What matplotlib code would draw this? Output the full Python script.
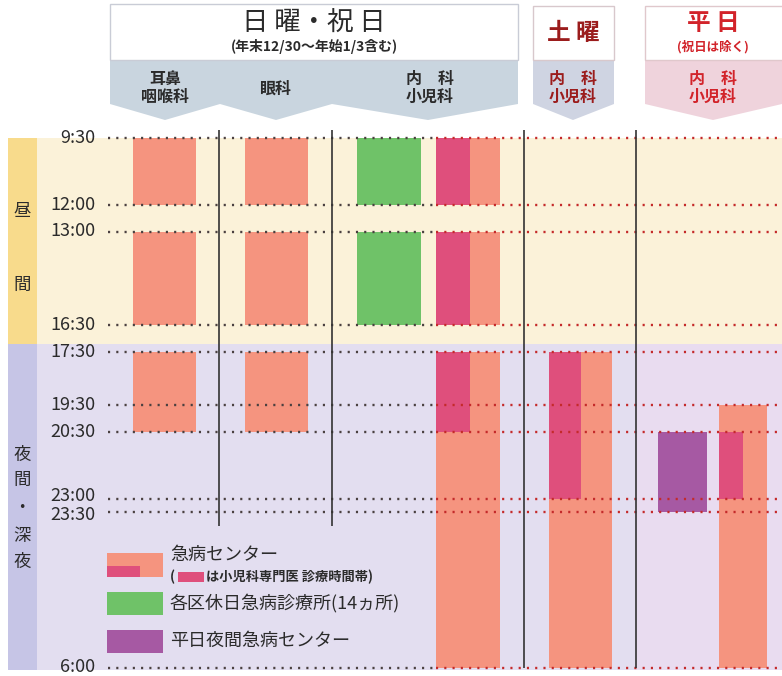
import numpy as np
import matplotlib
matplotlib.use("Agg")
import matplotlib.pyplot as plt
from matplotlib.patches import Polygon, Rectangle

plt.rcParams['font.family'] = ['Noto Sans CJK JP', 'DejaVu Sans']

# ---------------- data ----------------
tick_hours = [9.5, 12, 13, 16.5, 17.5, 19.5, 20.5, 23, 23.5, 30]
tick_labels = ["9:30", "12:00", "13:00", "16:30", "17:30", "19:30", "20:30", "23:00", "23:30", "6:00"]

ent_start = [9.5, 13, 17.5]
ent_end = [12, 16.5, 20.5]
eye_start = [9.5, 13, 17.5]
eye_end = [12, 16.5, 20.5]
clinic_start = [9.5, 13]
clinic_end = [12, 16.5]
sun_center_start = [9.5, 13, 17.5]
sun_center_end = [12, 16.5, 30]
sun_ped_start = [9.5, 13, 17.5]
sun_ped_end = [12, 16.5, 20.5]
sat_center_start = [17.5]
sat_center_end = [30]
sat_ped_start = [17.5]
sat_ped_end = [23]
wk_night_start = [20.5]
wk_night_end = [23.5]
wk_center_start = [19.5]
wk_center_end = [30]
wk_ped_start = [20.5]
wk_ped_end = [23]

day_start, day_end = 9.5, 17.2
night_start, night_end = 17.2, 30.1

# ---------------- style ----------------
SALMON = "#f5947f"
PINK = "#df4f7c"
GREEN = "#6fc268"
PURPLE = "#a659a3"
CREAM = "#fbf2d9"
LAV = "#e3def0"
BAND_Y = "#f8db8c"
BAND_L = "#c6c5e6"
DARK = "#2b2b2b"
RED = "#d2232a"
DRED = "#9b1c1c"

fig = plt.figure(figsize=(7.82, 6.76), dpi=100)
fig.patch.set_facecolor("white")

ax = fig.add_axes([0, 0, 1, 1])
HK = [4.33, 9.5, 23.5, 30.0, 30.33]
PK = [0, 138, 512, 668, 676]
ax.set_yscale('function', functions=(lambda h: np.interp(h, HK, PK),
                                     lambda p: np.interp(p, PK, HK)))
ax.set_xlim(0, 782)
ax.set_ylim(HK[-1], HK[0])
ax.axis('off')
ax.patch.set_alpha(0)

# background bands
ax.axhspan(day_start, day_end, xmin=37/782, xmax=1, color=CREAM, lw=0, zorder=0)
ax.axhspan(night_start, night_end, xmin=37/782, xmax=1, color=LAV, lw=0, zorder=0)
ax.axhspan(night_start, night_end, xmin=636/782, xmax=1, color="#e9dcf0", lw=0, zorder=0)
ax.axhspan(day_start, day_end, xmin=8/782, xmax=37/782, color=BAND_Y, lw=0, zorder=0)
ax.axhspan(night_start, night_end, xmin=8/782, xmax=37/782, color=BAND_L, lw=0, zorder=0)

for ch, h in [("昼", 12.25), ("間", 15.0)]:
    ax.text(22, h, ch, ha='center', va='center', fontsize=12.5, color=DARK)
for ch, h in [("夜", 21.35), ("間", 22.3), ("・", 23.35), ("深", 24.5), ("夜", 25.6)]:
    ax.text(22, h, ch, ha='center', va='center', fontsize=12.5, color=DARK)


def bars(starts, ends, x0, x1, color, z=2):
    s = np.array(starts, float)
    e = np.array(ends, float)
    ax.bar([x0] * len(s), e - s, bottom=s, width=x1 - x0, align='edge',
           color=color, lw=0, zorder=z)


bars(ent_start, ent_end, 133, 196, SALMON)
bars(eye_start, eye_end, 245, 308, SALMON)
bars(clinic_start, clinic_end, 357, 421, GREEN)
bars(sun_center_start, sun_center_end, 436, 500, SALMON)
bars(sun_ped_start, sun_ped_end, 436, 470, PINK, 3)
bars(sat_center_start, sat_center_end, 549, 612, SALMON)
bars(sat_ped_start, sat_ped_end, 549, 581, PINK, 3)
bars(wk_night_start, wk_night_end, 658, 707, PURPLE)
bars(wk_center_start, wk_center_end, 719, 767, SALMON)
bars(wk_ped_start, wk_ped_end, 719, 743, PINK, 3)

# dotted time lines
ax.hlines(tick_hours, 108, 436, colors="#4a4040", linestyles=(0, (0.9, 2.6)), lw=1.7, zorder=4)
ax.hlines(tick_hours, 436, 782, colors="#c42a2a", linestyles=(0, (0.9, 2.6)), lw=1.7, zorder=4)
label_dy = {"23:00": 3, "23:30": -3, "6:00": 1}
for h, lab in zip(tick_hours, tick_labels):
    ax.annotate(lab, (95, h), xytext=(0, label_dy.get(lab, 0)), textcoords='offset pixels',
                ha='right', va='center', fontsize=13, color=DARK)

# separators
ax.vlines([219, 332], 9.2, 24.1, colors="#333333", lw=1.2, zorder=5)
ax.vlines([524, 636], 9.2, 30.0, colors="#333333", lw=1.2, zorder=5)

# ---------------- header & legend overlay (pixel coordinates) ----------------
ah = fig.add_axes([0, 0, 1, 1])
ah.set_xlim(0, 782)
ah.set_ylim(676, 0)
ah.axis('off')
ah.patch.set_alpha(0)

GB = "#c9d5df"
# Sunday/holiday
ah.add_patch(Polygon([(110, 60), (110, 104), (165, 120), (220, 104), (276, 120),
                      (332, 104), (428, 120), (518, 104), (518, 60)],
                     closed=True, fc=GB, ec="none"))
ah.add_patch(Rectangle((110, 4), 408, 56, fc="white", ec="#c9ccd6", lw=1))
ah.text(314, 23, "日 曜・祝 日", ha='center', va='center', fontsize=19, color=DARK)
ah.text(314, 47, "(年末12/30～年始1/3含む)", ha='center', va='center', fontsize=10,
        color=DARK, weight='bold')
ah.text(165, 88, "耳鼻\n咽喉科", ha='center', va='center', fontsize=11.5, color=DARK,
        weight='bold', linespacing=1.15)
ah.text(275, 89, "眼科", ha='center', va='center', fontsize=11.5, color=DARK, weight='bold')
ah.text(430, 88, "内　科\n小児科", ha='center', va='center', fontsize=11.5, color=DARK,
        weight='bold', linespacing=1.15)

# Saturday
ah.add_patch(Polygon([(533, 60), (533, 104), (573, 120), (614, 104), (614, 60)],
                     closed=True, fc="#cfd4e2", ec="none"))
ah.add_patch(Rectangle((533, 6), 81, 54, fc="white", ec="#d8c8cc", lw=1))
ah.text(573, 33, "土 曜", ha='center', va='center', fontsize=17, color=DRED, weight='bold')
ah.text(573, 88, "内　科\n小児科", ha='center', va='center', fontsize=11.5, color=DRED,
        weight='bold', linespacing=1.15)

# Weekday
ah.add_patch(Polygon([(645, 60), (645, 104), (713, 120), (782, 104), (782, 60)],
                     closed=True, fc="#efd3dc", ec="none"))
ah.add_patch(Rectangle((645, 6), 140, 54, fc="white", ec="#e0c8cc", lw=1))
ah.text(713, 23, "平 日", ha='center', va='center', fontsize=17, color=RED, weight='bold')
ah.text(713, 47, "(祝日は除く)", ha='center', va='center', fontsize=9, color=RED, weight='bold')
ah.text(713, 88, "内　科\n小児科", ha='center', va='center', fontsize=11.5, color=RED,
        weight='bold', linespacing=1.15)

# legend
ah.add_patch(Rectangle((107, 553), 56, 24, fc=SALMON, ec="none"))
ah.add_patch(Rectangle((107, 566), 33, 11, fc=PINK, ec="none"))
ah.text(170, 555, "急病センター", ha='left', va='center', fontsize=13, color=DARK)
ah.text(170, 577, "(", ha='left', va='center', fontsize=9.5, color=DARK, weight='bold')
ah.add_patch(Rectangle((178, 572), 26, 10, fc=PINK, ec="none"))
ah.text(206, 577, "は小児科専門医 診療時間帯)", ha='left', va='center', fontsize=9.5,
        color=DARK, weight='bold')
ah.add_patch(Rectangle((107, 592), 56, 23, fc=GREEN, ec="none"))
ah.text(170, 603, "各区休日急病診療所(14ヵ所)", ha='left', va='center', fontsize=13, color=DARK)
ah.add_patch(Rectangle((107, 630), 56, 23, fc=PURPLE, ec="none"))
ah.text(170, 641, "平日夜間急病センター", ha='left', va='center', fontsize=13, color=DARK)

fig.savefig("out.png", dpi=100)
